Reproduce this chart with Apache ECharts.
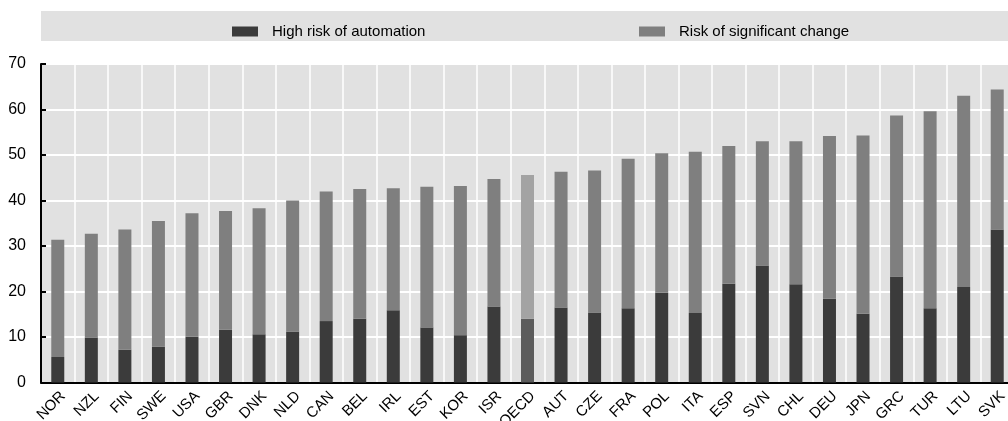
<!DOCTYPE html>
<html>
<head>
<meta charset="utf-8">
<script src="https://cdn.jsdelivr.net/npm/echarts@6/dist/echarts.min.js"></script>
<style>
html,body{margin:0;padding:0;background:#fff;}
#chart{width:1008px;height:421px;}
</style>
</head>
<body>
<div id="chart"></div>
<script>
var categories = ["NOR","NZL","FIN","SWE","USA","GBR","DNK","NLD","CAN","BEL","IRL","EST","KOR","ISR","OECD","AUT","CZE","FRA","POL","ITA","ESP","SVN","CHL","DEU","JPN","GRC","TUR","LTU","SVK"];
var highRisk = [5.6,9.9,7.2,7.9,10.1,11.6,10.6,11.2,13.5,14.0,15.9,12.1,10.4,16.7,14.0,16.5,15.4,16.3,19.7,15.3,21.7,25.7,21.6,18.4,15.1,23.3,16.3,21.0,33.6];
var significantChange = [25.8,22.8,26.4,27.6,27.1,26.1,27.7,28.8,28.5,28.5,26.8,30.9,32.8,28.0,31.6,29.8,31.2,32.9,30.7,35.4,30.3,27.3,31.4,35.8,39.2,35.4,43.3,42.0,30.8];
var yTicks = [0,10,20,30,40,50,60,70];
var highlight = "OECD";

var darkCol = "#3b3b3b", midCol = "#7f7f7f", oecdDark = "#5c5c5c", oecdLight = "#a3a3a3";

function mk(vals, normal, special) {
  return vals.map(function (v, i) {
    return categories[i] === highlight ? {value: v, itemStyle: {color: special}} : v;
  });
}

var chart = echarts.init(document.getElementById('chart'));
var font = "'Liberation Sans', Arial, sans-serif";
chart.setOption({
  animation: false,
  textStyle: {fontFamily: font},
  graphic: [{
    type: 'rect', left: 41, top: 11, z: -1,
    shape: {width: 967, height: 30},
    style: {fill: '#e1e1e1'}
  }],
  legend: [{
    data: ['High risk of automation'], left: 227, top: 19,
    icon: 'rect', itemWidth: 26, itemHeight: 10, itemGap: 0,
    textStyle: {fontSize: 15, color: '#000', fontFamily: font, padding: [0,0,0,9]}
  }, {
    data: ['Risk of significant change'], left: 634, top: 19,
    icon: 'rect', itemWidth: 26, itemHeight: 10, itemGap: 0,
    textStyle: {fontSize: 15, color: '#000', fontFamily: font, padding: [0,0,0,9]}
  }],
  grid: {
    left: 41, right: -6, top: 64, bottom: 38.5,
    outerBoundsMode: 'none', containLabel: false,
    show: true, backgroundColor: '#e1e1e1', borderWidth: 0
  },
  xAxis: {
    type: 'category', data: categories,
    axisLine: {lineStyle: {color: '#000', width: 2}},
    axisTick: {inside: true, length: 5, lineStyle: {color: '#000', width: 2}},
    splitLine: {show: true, lineStyle: {color: '#fff', width: 1.5}},
    axisLabel: {rotate: 45, fontSize: 15, color: '#000', margin: 6, interval: 0,
      verticalAlign: 'top', fontFamily: font}
  },
  yAxis: {
    type: 'value', min: yTicks[0], max: yTicks[yTicks.length-1], interval: 10,
    axisLine: {show: true, lineStyle: {color: '#000', width: 2}},
    axisTick: {show: true, inside: true, length: 5, lineStyle: {color: '#000', width: 2}},
    splitLine: {show: true, lineStyle: {color: '#fff', width: 2}},
    axisLabel: {fontSize: 16, color: '#000', margin: 15, fontFamily: font}
  },
  series: [{
    name: 'High risk of automation', type: 'bar', stack: 'a',
    barWidth: 13, itemStyle: {color: darkCol},
    data: mk(highRisk, darkCol, oecdDark)
  }, {
    name: 'Risk of significant change', type: 'bar', stack: 'a',
    barWidth: 13, itemStyle: {color: midCol},
    data: mk(significantChange, midCol, oecdLight)
  }]
});
</script>
</body>
</html>
